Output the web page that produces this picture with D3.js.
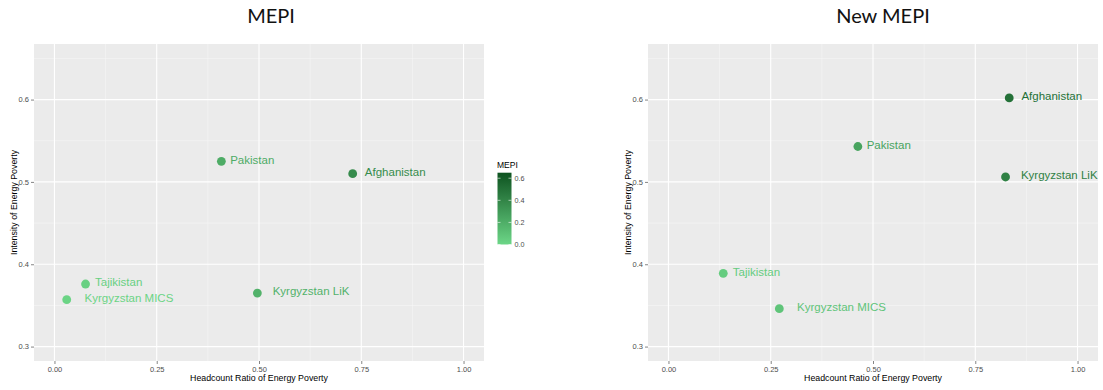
<!DOCTYPE html>
<html lang="en">
<head>
<meta charset="utf-8">
<title>MEPI vs New MEPI</title>
<script src="https://d3js.org/d3.v7.min.js"></script>
<style>
  body { margin: 0; background: #fff; }
  svg text { font-family: "Liberation Sans", Arial, sans-serif; }
  .title { font-family: Lato, "Open Sans", sans-serif; font-size: 20px; fill: #111; }
</style>
</head>
<body>
<div id="chart"></div>
<script>
// countries, in the order of the arrays below
var countries = ["Afghanistan", "Pakistan", "Tajikistan", "Kyrgyzstan MICS", "Kyrgyzstan LiK"];

// MEPI (left panel)
var mepiHeadcount = [0.729, 0.408, 0.076, 0.030, 0.496];
var mepiIntensity = [0.510, 0.525, 0.376, 0.357, 0.365];
var mepiValue     = [0.37, 0.21, 0.03, 0.01, 0.18];

// New MEPI (right panel)
var newHeadcount = [0.833, 0.463, 0.134, 0.271, 0.824];
var newIntensity = [0.602, 0.543, 0.389, 0.346, 0.506];
var newValue     = [0.50, 0.25, 0.05, 0.09, 0.42];

var xTicks = [0, 0.25, 0.5, 0.75, 1];
var xMinor = [0.125, 0.375, 0.625, 0.875];
var yTicks = [0.3, 0.4, 0.5, 0.6];
var yMinor = [0.35, 0.45, 0.55, 0.65];
var legendTicks = [0, 0.2, 0.4, 0.6];

var width = 1103, height = 390;

var svg = d3.select('#chart').append('svg')
    .attr('width', width)
    .attr('height', height);

// shared colour scale for MEPI
var color = d3.scaleLinear()
    .domain([0, 0.65])
    .range(['#6cd687', '#0e5320'])
    .interpolate(d3.interpolateRgb);

function drawPanel(opt) {
    var x = d3.scaleLinear().domain([-0.05, 1.05]).range([opt.left, opt.right]);
    var y = d3.scaleLinear().domain([0.2825, 0.6675]).range([361, 44]);

    var g = svg.append('g');

    g.append('rect')
        .attr('x', opt.left).attr('y', 44)
        .attr('width', opt.right - opt.left).attr('height', 361 - 44)
        .attr('fill', '#ebebeb');

    // minor grid
    g.selectAll('.vminor').data(xMinor).enter().append('line')
        .attr('x1', d => x(d)).attr('x2', d => x(d))
        .attr('y1', 44).attr('y2', 361)
        .attr('stroke', '#f7f7f7').attr('stroke-width', 0.6);
    g.selectAll('.hminor').data(yMinor).enter().append('line')
        .attr('y1', d => y(d)).attr('y2', d => y(d))
        .attr('x1', opt.left).attr('x2', opt.right)
        .attr('stroke', '#f7f7f7').attr('stroke-width', 0.6);

    // major grid
    g.selectAll('.vmajor').data(xTicks).enter().append('line')
        .attr('x1', d => x(d)).attr('x2', d => x(d))
        .attr('y1', 44).attr('y2', 361)
        .attr('stroke', '#fff').attr('stroke-width', 1.1);
    g.selectAll('.hmajor').data(yTicks).enter().append('line')
        .attr('y1', d => y(d)).attr('y2', d => y(d))
        .attr('x1', opt.left).attr('x2', opt.right)
        .attr('stroke', '#fff').attr('stroke-width', 1.1);

    // axes
    var xAxis = d3.axisBottom(x).tickValues(xTicks).tickFormat(d3.format('.2f'))
        .tickSize(3).tickPadding(3);
    var ga = g.append('g').attr('transform', 'translate(0,361)').call(xAxis);
    var yAxis = d3.axisLeft(y).tickValues(yTicks).tickFormat(d3.format('.1f'))
        .tickSize(3).tickPadding(2);
    var gy = g.append('g').attr('transform', 'translate(' + opt.left + ',0)').call(yAxis);
    [ga, gy].forEach(function (a) {
        a.select('.domain').remove();
        a.selectAll('.tick line').attr('stroke', '#333').attr('stroke-width', 0.6);
        a.selectAll('.tick text').attr('fill', '#4d4d4d')
            .style('font-size', '7.5px').style('font-family', '"Liberation Sans", Arial, sans-serif');
    });

    g.append('text')
        .attr('x', (x(0) + x(1)) / 2).attr('y', 381)
        .attr('text-anchor', 'middle')
        .style('font-size', '8.8px').attr('fill', '#000')
        .text('Headcount Ratio of Energy Poverty');

    g.append('text')
        .attr('transform', 'translate(' + (opt.left - 17.5) + ',' + y(0.475) + ') rotate(-90)')
        .attr('text-anchor', 'middle')
        .style('font-size', '8.8px').attr('fill', '#000')
        .text('Intensity of Energy Poverty');

    var data = countries.map(function (c, i) {
        return { name: c, hx: opt.hx[i], iy: opt.iy[i], v: opt.v[i] };
    });

    g.selectAll('.pt').data(data).enter().append('circle')
        .attr('cx', d => x(d.hx)).attr('cy', d => y(d.iy))
        .attr('r', 4.4)
        .attr('fill', d => color(d.v));

    // labels with hjust = -0.2 (offset = 20% of text width)
    g.selectAll('.lbl').data(data).enter().append('text')
        .attr('y', d => y(d.iy))
        .attr('dy', '0.2em')
        .style('font-size', '11.5px')
        .attr('fill', d => color(d.v))
        .text(d => d.name)
        .each(function (d) {
            var w = this.getComputedTextLength();
            d3.select(this).attr('x', x(d.hx) + 0.2 * w);
        });

    svg.append('text').attr('class', 'title')
        .attr('x', opt.titleX).attr('y', 23)
        .attr('text-anchor', 'middle')
        .text(opt.title);
}

drawPanel({ left: 34, right: 484, hx: mepiHeadcount, iy: mepiIntensity, v: mepiValue,
            title: 'MEPI', titleX: 271 });
drawPanel({ left: 648, right: 1098, hx: newHeadcount, iy: newIntensity, v: newValue,
            title: 'New MEPI', titleX: 883 });

// colour bar legend
var defs = svg.append('defs');
var grad = defs.append('linearGradient').attr('id', 'mepiGrad')
    .attr('x1', 0).attr('y1', 1).attr('x2', 0).attr('y2', 0);
d3.range(0, 1.01, 0.1).forEach(function (t) {
    grad.append('stop').attr('offset', t).attr('stop-color', color(t * 0.65));
});

var ly = d3.scaleLinear().domain([0, 0.65]).range([244.5, 172.7]);
var leg = svg.append('g');
leg.append('text').attr('x', 497).attr('y', 168)
    .style('font-size', '8.5px').attr('fill', '#000').text('MEPI');
leg.append('rect').attr('x', 497.5).attr('y', ly(0.65))
    .attr('width', 14).attr('height', ly(0) - ly(0.65))
    .attr('fill', 'url(#mepiGrad)');
leg.selectAll('.lt').data(legendTicks).enter().append('line')
    .attr('x1', 497.5).attr('x2', 500.5)
    .attr('y1', d => ly(d)).attr('y2', d => ly(d))
    .attr('stroke', '#fff').attr('stroke-width', 0.6);
leg.selectAll('.rt').data(legendTicks).enter().append('line')
    .attr('x1', 508.5).attr('x2', 511.5)
    .attr('y1', d => ly(d)).attr('y2', d => ly(d))
    .attr('stroke', '#fff').attr('stroke-width', 0.6);
leg.selectAll('.ll').data(legendTicks).enter().append('text')
    .attr('x', 514.5).attr('y', d => ly(d)).attr('dy', '0.35em')
    .style('font-size', '7.2px').attr('fill', '#4d4d4d')
    .text(d => d3.format('.1f')(d));
</script>
</body>
</html>
